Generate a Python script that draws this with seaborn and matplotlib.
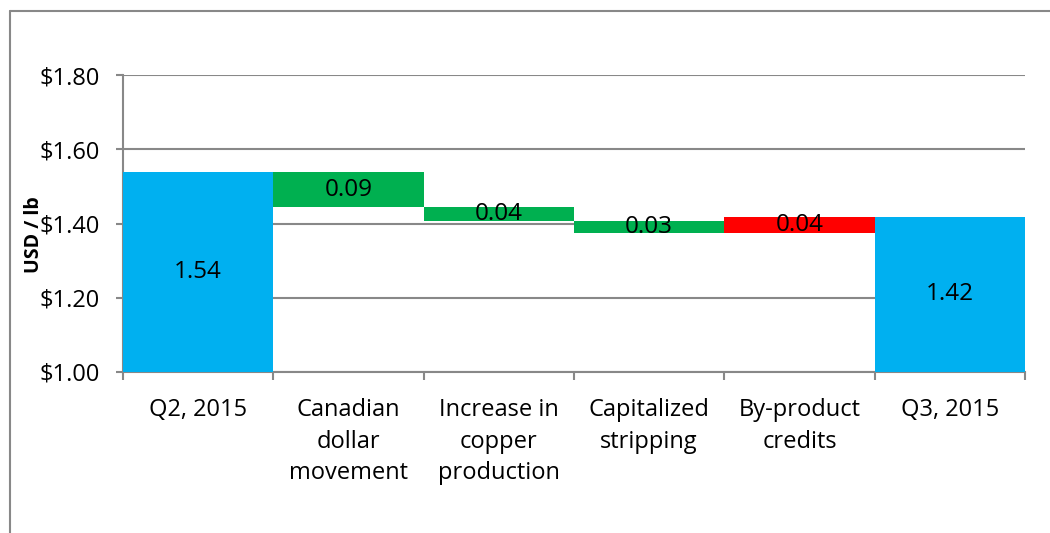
import matplotlib
matplotlib.use("Agg")
import matplotlib.pyplot as plt
from matplotlib.lines import Line2D
from matplotlib.ticker import FixedLocator, FuncFormatter
import seaborn as sns
import pandas as pd

categories = ["Q2, 2015", "Canadian\ndollar\nmovement", "Increase in\ncopper\nproduction",
              "Capitalized\nstripping", "By-product\ncredits", "Q3, 2015"]
bottoms = [1.00, 1.445, 1.407, 1.375, 1.375, 1.00]
tops = [1.538, 1.538, 1.445, 1.407, 1.418, 1.418]
labels = ["1.54", "0.09", "0.04", "0.03", "0.04", "1.42"]
colors = ["#00B0F0", "#00B050", "#00B050", "#00B050", "#FF0000", "#00B0F0"]
yticks = [1.00, 1.20, 1.40, 1.60, 1.80]

sns.set_theme(style="white")
plt.rcParams['font.family'] = ['Open Sans', 'DejaVu Sans']

fig = plt.figure(figsize=(10.5, 5.33), dpi=100)
ax = fig.add_axes([123/1050, 1 - 372/533, (1025-123)/1050, (372-75)/533])

grey = "#888888"
for cat, b, t, c in zip(categories, bottoms, tops, colors):
    df = pd.DataFrame({"cat": [cat], "h": [t - b]})
    sns.barplot(data=df, x="cat", y="h", order=categories, color=c, saturation=1,
                width=1.0, bottom=b, ax=ax, zorder=3, linewidth=0)

for i, (b, t, lab) in enumerate(zip(bottoms, tops, labels)):
    ax.text(i, (b + t) / 2, lab, ha="center", va="center", fontsize=17.5, color="black", zorder=5)

ax.set_xlim(-0.5, 5.5)
ax.set_ylim(1.0, 1.8)
ax.yaxis.set_major_locator(FixedLocator(yticks))
ax.yaxis.set_major_formatter(FuncFormatter(lambda v, p: f"${v:.2f}"))
ax.grid(axis="y", color=grey, linewidth=1.5, zorder=0)
ax.set_axisbelow(True)

for s in ["top", "right"]:
    ax.spines[s].set_visible(False)
for s in ["left", "bottom"]:
    ax.spines[s].set_color(grey)
    ax.spines[s].set_linewidth(1.5)

ax.tick_params(axis="y", which="major", left=True, length=5, width=1.5, color=grey,
               labelsize=17, pad=12, labelcolor="black")
ax.set_xticks(range(len(categories)))
ax.set_xticklabels(categories)
ax.set_xticks([i - 0.5 for i in range(len(categories) + 1)], minor=True)
ax.tick_params(axis="x", which="major", length=0, labelsize=17, pad=19, labelcolor="black")
ax.tick_params(axis="x", which="minor", bottom=True, length=6, width=1.5, color=grey)
for t in ax.get_xticklabels():
    t.set_linespacing(1.4)

ax.set_xlabel("")
ax.set_ylabel("USD / lb", fontsize=14, fontweight="bold", color="black")
ax.yaxis.set_label_coords(-0.088, 0.461)

fig.add_artist(Line2D([9.5/1050, 9.5/1050], [0, 1 - 11/533], color=grey, linewidth=1.5, transform=fig.transFigure))
fig.add_artist(Line2D([9.5/1050, 1], [1 - 11/533, 1 - 11/533], color=grey, linewidth=1.5, transform=fig.transFigure))

fig.savefig("out.png", dpi=100)
